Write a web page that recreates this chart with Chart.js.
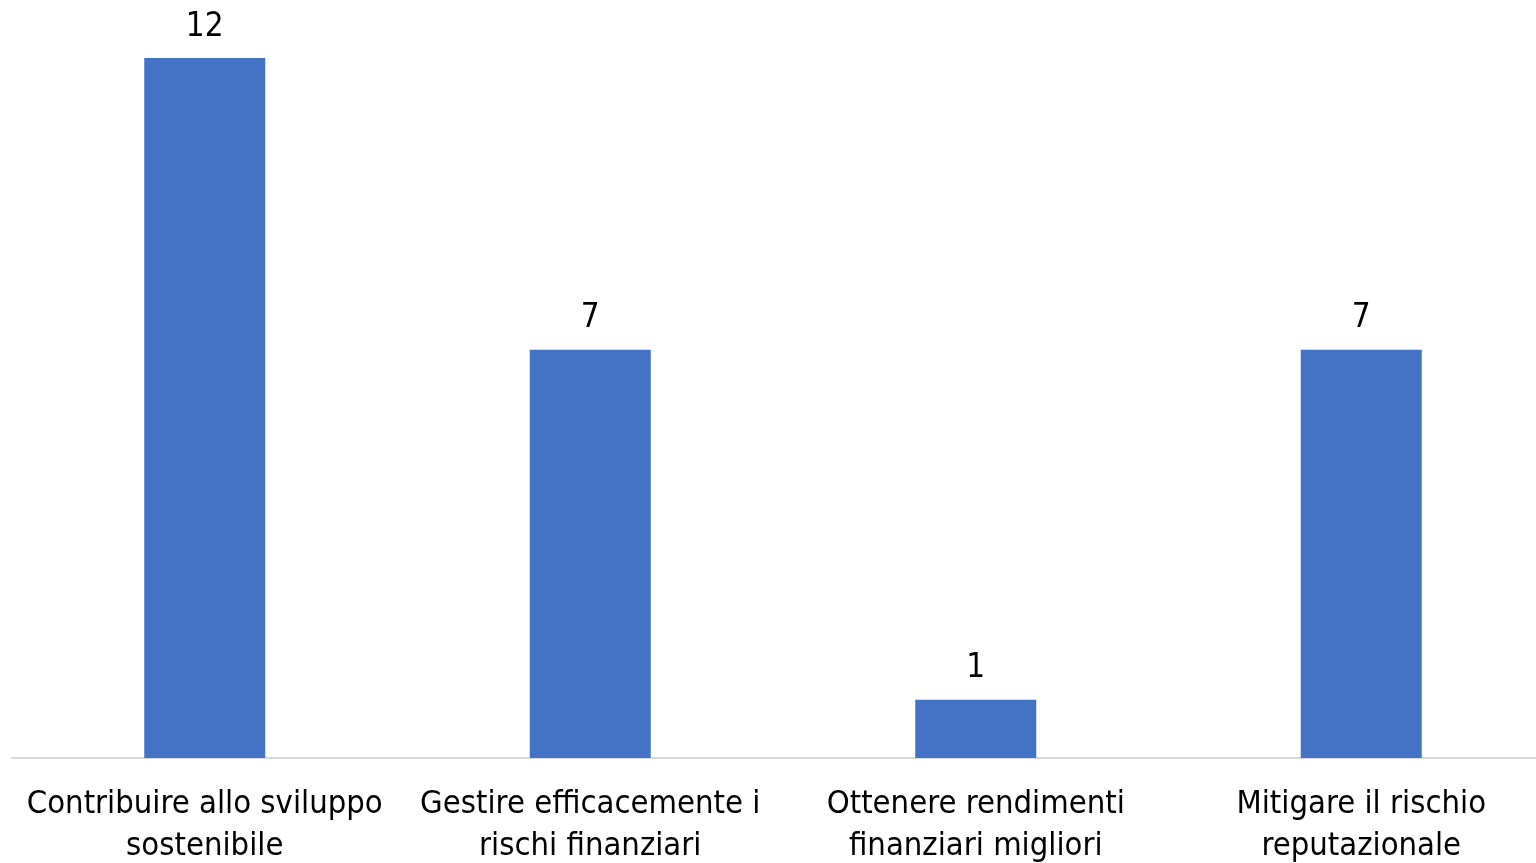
<!DOCTYPE html>
<html><head><meta charset="utf-8">
<script src="https://cdn.jsdelivr.net/npm/chart.js@4/dist/chart.umd.min.js"></script>
<style>html,body{margin:0;padding:0;background:#fff;overflow:hidden;width:1536px;height:863px}canvas{display:block}</style>
</head><body>
<canvas id="c" width="1560" height="863" style="width:1560px;height:863px"></canvas>
<script>
const categories = [
  ['Contribuire allo sviluppo', 'sostenibile'],
  ['Gestire efficacemente i', 'rischi finanziari'],
  ['Ottenere rendimenti', 'finanziari migliori'],
  ['Mitigare il rischio', 'reputazionale']
];
const values = [12, 7, 1, 7];

const FONT = '"Liberation Sans Narrow", "DejaVu Sans Condensed", sans-serif';

const valueLabels = {
  id: 'valueLabels',
  afterDatasetsDraw(chart) {
    const ctx = chart.ctx;
    const meta = chart.getDatasetMeta(0);
    ctx.save();
    ctx.font = '33px ' + FONT;
    ctx.fillStyle = '#000';
    ctx.textAlign = 'center';
    ctx.textBaseline = 'middle';
    meta.data.forEach((bar, i) => {
      ctx.fillText(String(values[i]), bar.x, bar.y - 31);
    });
    ctx.restore();
  }
};

new Chart(document.getElementById('c'), {
  type: 'bar',
  data: {
    labels: categories,
    datasets: [{
      data: values,
      backgroundColor: '#4472C4',
      borderWidth: 0,
      barPercentage: 1,
      categoryPercentage: 121 / 385.5
    }]
  },
  options: {
    responsive: false,
    animation: false,
    layout: { padding: { top: 58, left: 12, right: 6, bottom: 0 } },
    plugins: { legend: { display: false }, tooltip: { enabled: false } },
    scales: {
      y: { display: false, min: 0, max: 12 },
      x: {
        grid: { display: false, drawTicks: false },
        border: { display: true, color: '#d9d9d9', width: 2 },
        ticks: {
          color: '#000',
          font: { family: FONT, size: 32.5, lineHeight: 1.29 },
          padding: 26,
          maxRotation: 0,
          autoSkip: false
        },
        afterFit(scale) {
          scale.height = 105;
          scale.paddingLeft = 0;
          scale.paddingRight = 0;
        }
      }
    }
  },
  plugins: [valueLabels]
});
</script>
</body></html>
